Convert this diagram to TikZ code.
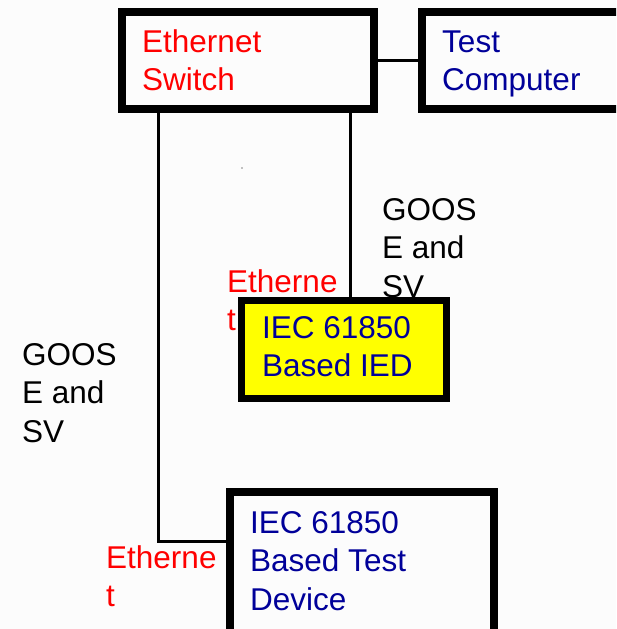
\documentclass[tikz,border=0pt]{standalone}
\usepackage{fontspec}
\setmainfont{Liberation Sans}
\definecolor{txtred}{RGB}{255,0,0}
\definecolor{txtblue}{RGB}{0,0,153}
\definecolor{bg}{RGB}{252,252,252}
\definecolor{ied}{RGB}{255,255,0}
\newcommand\txtblock[1]{\parbox[t]{9cm}{\raggedright #1}}
\begin{document}
\begin{tikzpicture}[x=1pt,y=-1pt,
  every node/.style={inner sep=0pt},
  box/.style={draw=black,line width=8pt,fill=bg,minimum width=#1},
  lbl/.style={anchor=base west,font=\fontsize{31.5}{38.5}\selectfont},
  wire/.style={draw=black,line width=3pt}]
\useasboundingbox (0,0) rectangle (616,629);
\clip (0,0) rectangle (616,629);
\fill[bg] (0,0) rectangle (616,629);
% boxes
\node[box=252pt,minimum height=97pt] (sw) at (248,60.5) {};
\node[box=230pt,minimum height=97pt] (tc) at (537,60.5) {};
\node[box=264pt,minimum height=168pt] (dev) at (362,576) {};
% ports
\coordinate (swl) at ([xshift=-90pt]sw.south);
\coordinate (swr) at ([xshift=102pt]sw.south);
\coordinate (devport) at (226,541);
% connectors
\draw[wire] (sw.east) -- (tc.west);
\draw[wire] (swl) |- (devport);
% labels
\node[lbl,text=txtred] (swt) at (142,52) {\txtblock{Ethernet\\Switch}};
\node[lbl,text=txtblue] (tct) at (442,52) {\txtblock{Test\\Computer}};
\node[lbl] (g1) at (382,220) {\txtblock{GOOS\\E and\\SV}};
\node[lbl,text=txtred] (e1) at (227,292) {\txtblock{Etherne\\t}};
\node[lbl] (g2) at (22,365) {\txtblock{GOOS\\E and\\SV}};
\node[lbl,text=txtred] (e2) at (106,568) {\txtblock{Etherne\\t}};
% IED box drawn over labels
\node[draw=black,line width=7pt,fill=ied,minimum width=205pt,minimum height=98pt] (ied) at (344,349.5) {};
\draw[wire] (swr) -- ([xshift=6pt]ied.north);
\node[lbl,text=txtblue] (iedt) at (262,338) {\txtblock{IEC 61850\\Based IED}};
\node[lbl,text=txtblue] (devt) at (250,533) {\txtblock{IEC 61850\\Based Test\\Device}};
\fill[black] (242,168) circle (0.7);
\end{tikzpicture}
\end{document}
